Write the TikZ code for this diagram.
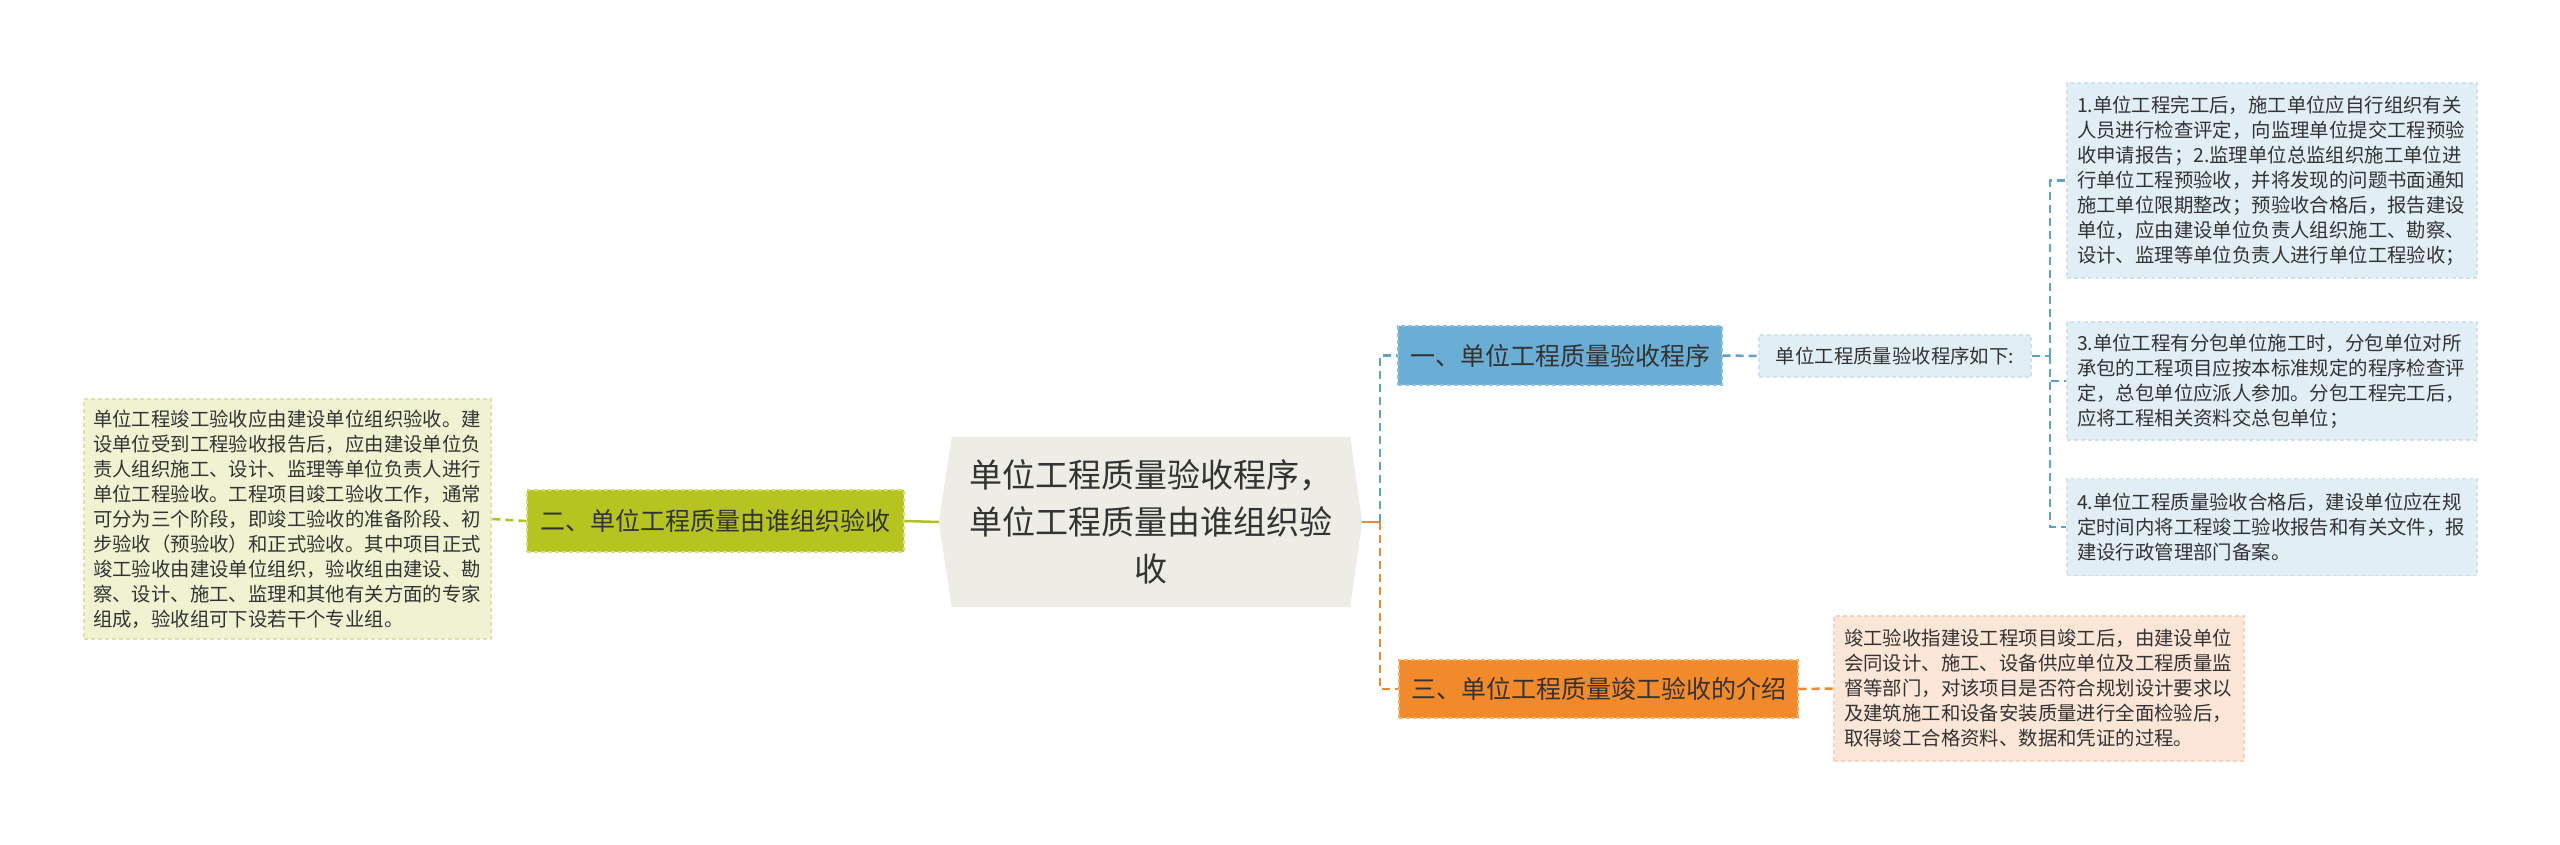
\documentclass[tikz,border=0pt]{standalone}
\usepackage{fontspec}
\setmainfont{Noto Sans CJK SC}
\usetikzlibrary{backgrounds}
\definecolor{txt}{HTML}{333333}
\definecolor{leftfill}{HTML}{F0F3D2}
\definecolor{leftborder}{HTML}{DDE3A8}
\definecolor{ntwofill}{HTML}{B5C41E}
\definecolor{ntwoborder}{HTML}{D5DC7A}
\definecolor{centerfill}{HTML}{EDEDE5}
\definecolor{nonefill}{HTML}{6AAED5}
\definecolor{noneborder}{HTML}{8CC0DF}
\definecolor{lbfill}{HTML}{E2EEF6}
\definecolor{lbborder}{HTML}{CFE2EE}
\definecolor{nthreefill}{HTML}{F28A2C}
\definecolor{nthreeborder}{HTML}{F6AE6A}
\definecolor{peachfill}{HTML}{FCE6D7}
\definecolor{peachborder}{HTML}{F6D3BC}
\definecolor{cblue}{HTML}{5EA1C9}
\definecolor{corange}{HTML}{EE8A2E}
\definecolor{cgreen}{HTML}{B3C024}
\begin{document}
\begin{tikzpicture}[x=1pt,y=-1pt,
  conn/.style={line width=2.5pt},
  dconn/.style={conn, dash pattern=on 8pt off 5pt},
  box/.style={rectangle, inner ysep=0pt, line width=1.3pt, dash pattern=on 4pt off 3pt, text=txt},
  small/.style={box, font=\fontsize{19.4}{25}\selectfont, align=left, inner xsep=10pt},
  topic/.style={box, font=\fontsize{25}{30}\selectfont, align=center, inner xsep=0pt},
]
\useasboundingbox (0,0) rectangle (2560,845);

% central node
\node[text=txt, font=\fontsize{33}{47}\selectfont, align=center, minimum width=423pt, minimum height=170pt, inner sep=0pt] (C) at (1150.5,522)
  {单位工程质量验收程序，\\单位工程质量由谁组织验\\收};
\begin{scope}[on background layer]
\fill[white] (0,0) rectangle (2560,845);
\fill[centerfill] ([xshift=13pt]C.north west) -- (C.west) -- ([xshift=13pt]C.south west)
  -- ([xshift=-12pt]C.south east) -- (C.east) -- ([xshift=-12pt]C.north east) -- cycle;
\end{scope}

% left branch
\node[topic, fill=ntwofill, draw=ntwoborder, minimum width=377pt, minimum height=62pt] (N2) at (715.5,521) {二、单位工程质量由谁组织验收};
\node[small, inner xsep=9pt, fill=leftfill, draw=leftborder, minimum width=407pt, minimum height=240pt, text width=389pt] (L) at (287.5,519)
  {单位工程竣工验收应由建设单位组织验收。建\\设单位受到工程验收报告后，应由建设单位负\\责人组织施工、设计、监理等单位负责人进行\\单位工程验收。工程项目竣工验收工作，通常\\可分为三个阶段，即竣工验收的准备阶段、初\\步验收（预验收）和正式验收。其中项目正式\\竣工验收由建设单位组织，验收组由建设、勘\\察、设计、施工、监理和其他有关方面的专家\\组成，验收组可下设若干个专业组。};

% right branch 1
\node[topic, fill=nonefill, draw=noneborder, minimum width=324pt, minimum height=59pt] (N1) at (1560,355.5) {一、单位工程质量验收程序};
\node[small, fill=lbfill, draw=lbborder, minimum width=272pt, minimum height=42pt] (Q) at (1895,356) {单位工程质量验收程序如下:};
\node[small, fill=lbfill, draw=lbborder, minimum width=410pt, minimum height=195pt, text width=390pt] (B1) at (2272,180.5)
  {1.单位工程完工后，施工单位应自行组织有关\\人员进行检查评定，向监理单位提交工程预验\\收申请报告；2.监理单位总监组织施工单位进\\行单位工程预验收，并将发现的问题书面通知\\施工单位限期整改；预验收合格后，报告建设\\单位，应由建设单位负责人组织施工、勘察、\\设计、监理等单位负责人进行单位工程验收；};
\node[small, fill=lbfill, draw=lbborder, minimum width=410pt, minimum height=118pt, text width=390pt] (B3) at (2272,381)
  {3.单位工程有分包单位施工时，分包单位对所\\承包的工程项目应按本标准规定的程序检查评\\定，总包单位应派人参加。分包工程完工后，\\应将工程相关资料交总包单位；};
\node[small, fill=lbfill, draw=lbborder, minimum width=410pt, minimum height=97pt, text width=390pt] (B4) at (2272,527)
  {4.单位工程质量验收合格后，建设单位应在规\\定时间内将工程竣工验收报告和有关文件，报\\建设行政管理部门备案。};

% right branch 3
\node[topic, fill=nthreefill, draw=nthreeborder, minimum width=399pt, minimum height=58pt] (N3) at (1598.5,689) {三、单位工程质量竣工验收的介绍};
\node[small, fill=peachfill, draw=peachborder, minimum width=410pt, minimum height=145pt, text width=390pt] (T3) at (2039,688.5)
  {竣工验收指建设工程项目竣工后，由建设单位\\会同设计、施工、设备供应单位及工程质量监\\督等部门，对该项目是否符合规划设计要求以\\及建筑施工和设备安装质量进行全面检验后，\\取得竣工合格资料、数据和凭证的过程。};

% connectors
\coordinate (S) at (1380,522);
\coordinate (S2) at (2050,356);
\draw[conn, draw=corange] (C.east) -- (S);
\draw[dconn, draw=cblue] (S) |- (N1.west);
\draw[dconn, draw=corange] (S) |- (N3.west);
\draw[conn, draw=cgreen] (C.west) -- (N2.east);
\draw[dconn, draw=cgreen] (N2.west) -- (L.east);
\draw[dconn, draw=cblue] (N1.east) -- (Q.west);
\draw[dconn, draw=cblue] (Q.east) -- (S2);
\draw[dconn, draw=cblue] (S2) |- (B1.west);
\draw[dconn, draw=cblue] (S2) |- (B3.west);
\draw[dconn, draw=cblue] (S2) |- (B4.west);
\draw[dconn, draw=corange] (N3.east) -- (T3.west);
\end{tikzpicture}
\end{document}
